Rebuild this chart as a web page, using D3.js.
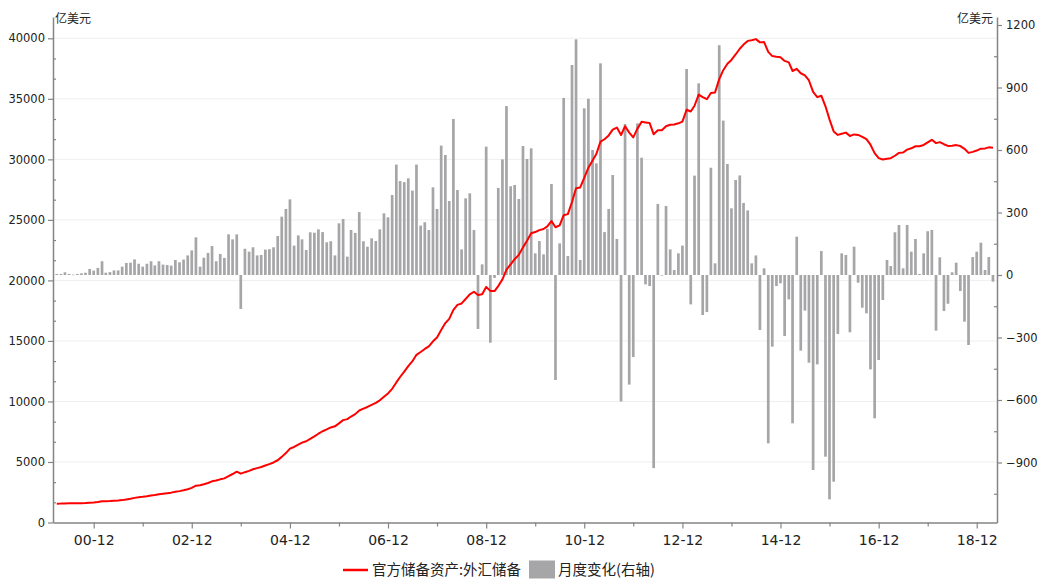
<!DOCTYPE html>
<html>
<head>
<meta charset="utf-8">
<script src="https://cdn.jsdelivr.net/npm/d3@7/dist/d3.min.js"></script>
<style>
  html, body { margin: 0; padding: 0; background: #fff; }
  svg { display: block; }
</style>
</head>
<body>
<svg id="chart" width="1039" height="580"></svg>
<script>
// Monthly series, March 2000 – April 2019
const firstMonth = "2000-03";
const lastMonth = "2019-04";

// 官方储备资产:外汇储备 (亿美元), month-end level
const reserves = [
  1557,1562,1575,1580,1582,1587,1595,1606,1635,1656,
  1688,1751,1760,1772,1792,1812,1849,1905,1961,2034,2085,2122,
  2172,2234,2275,2337,2383,2426,2467,2535,2591,2661,2751,2864,
  3043,3081,3162,3265,3402,3466,3565,3644,3837,4006,4198,4033,
  4157,4267,4398,4490,4584,4705,4827,4958,5143,5421,5736,6099,
  6238,6426,6595,6713,6916,7117,7334,7538,7693,7853,7945,8189,
  8455,8540,8753,8953,9252,9411,9545,9718,9878,10094,10388,10663,
  11044,11571,12019,12462,12923,13325,13852,14086,14336,14549,14967,15282,
  15900,16473,16825,17571,17976,18096,18461,18850,19063,18801,18848,19460,
  19133,19117,19533,20086,20895,21319,21749,22112,22729,23284,23890,23992,
  24152,24248,24467,24900,24393,24542,25388,25476,26481,27608,27677,28473,
  29316,29913,30446,31459,31662,31976,32453,32623,32013,32735,32207,31811,
  32537,33098,33051,32996,32067,32406,32404,32733,32854,32876,32977,33116,
  34101,33956,34429,35345,35149,34967,35478,35530,36630,37367,37896,38213,
  38665,39139,39481,39787,39839,39932,39664,39692,38880,38532,38475,38430,
  38134,38014,37299,37480,37114,36940,36516,35577,35145,35257,34382,33304,
  32307,32019,32118,32209,31929,32060,32018,31856,31667,31210,30517,30105,
  29983,30053,30094,30297,30535,30565,30803,30913,31084,31087,31190,31399,
  31613,31343,31426,31250,31110,31121,31177,31098,30871,30533,30617,30727,
  30882,30906,30992,30960
];

// 月度变化 (亿美元), right axis
const monthlyChange = [
  5,5,13,5,2,5,8,11,29,21,
  34,66,11,14,22,22,40,58,59,75,54,40,
  54,66,46,66,50,48,45,72,61,74,94,118,
  181,40,83,106,139,66,101,82,195,171,195,-163,
  126,112,133,94,96,122,124,133,187,280,317,363,
  141,190,171,120,205,203,219,206,157,162,94,248,
  269,88,216,202,302,162,136,176,163,219,296,277,
  384,530,451,446,464,405,530,237,253,216,421,317,
  621,576,355,749,408,123,368,392,216,-259,51,616,
  -325,-14,418,555,811,426,432,365,619,557,608,104,
  163,99,222,437,-504,152,850,91,1008,1131,72,800,
  846,600,536,1016,206,317,480,173,-607,725,-526,-394,
  728,563,-45,-53,-927,341,-2,331,123,24,104,141,
  989,-141,477,920,-192,-178,515,56,1103,741,533,320,
  456,478,346,310,56,94,-264,32,-808,-344,-53,-40,
  -293,-117,-712,184,-363,-171,-421,-936,-429,115,-872,-1077,
  -992,-283,104,96,-275,136,-37,-157,-184,-453,-688,-408,
  -120,72,43,205,240,32,240,112,173,5,104,210,
  216,-267,85,-173,-138,13,59,-77,-224,-336,86,112,
  155,24,86,-32
];

// Axis ticks
const xTickLabels = ["00-12","02-12","04-12","06-12","08-12","10-12","12-12","14-12","16-12","18-12"];
const xMinorLabels = ["01-12","03-12","05-12","07-12","09-12","11-12","13-12","15-12","17-12"];
const leftTicks = [0,5000,10000,15000,20000,25000,30000,35000,40000];
const rightTicks = [-900,-600,-300,0,300,600,900,1200];
const unitLabel = "亿美元";
const lineName = "官方储备资产:外汇储备";
const barName = "月度变化(右轴)";

const parseYM = d3.timeParse("%Y-%m");
const parseTick = d3.timeParse("%y-%m");
const months = d3.timeMonth.range(parseYM(firstMonth), d3.timeMonth.offset(parseYM(lastMonth), 1));
const rows = months.map((m, i) => ({ date: m, level: reserves[i], change: monthlyChange[i] }));

const W = 1039, H = 580;
const plot = { left: 53, right: 997, top: 17, bottom: 522.5 };
const axisColor = "#858585";
const textColor = "#222";
const numFont = "'DejaVu Sans', Verdana, sans-serif";
const cjkFont = "'Noto Sans CJK SC', 'Noto Sans', sans-serif";

const svg = d3.select("#chart");

const x = d3.scaleTime()
  .domain([new Date(2000, 1, 2), new Date(2019, 4, 1)])
  .range([plot.left, plot.right]);
const yL = d3.scaleLinear().domain([0, 41760]).range([plot.bottom, plot.top]);
const yR = d3.scaleLinear().domain([-1188, 1238.4]).range([plot.bottom, plot.top]);

// horizontal grid on the left-axis ticks
svg.append("g")
  .selectAll("line")
  .data(leftTicks.filter(v => v > 0))
  .join("line")
  .attr("x1", plot.left).attr("x2", plot.right)
  .attr("y1", d => yL(d)).attr("y2", d => yL(d))
  .attr("stroke", "#efefef").attr("stroke-width", 1);

// monthly change bars
const barW = 2.7;
svg.append("g")
  .selectAll("rect")
  .data(rows)
  .join("rect")
  .attr("x", d => x(d.date) - barW / 2)
  .attr("width", barW)
  .attr("y", d => Math.min(yR(0), yR(d.change)))
  .attr("height", d => Math.max(0.6, Math.abs(yR(d.change) - yR(0))))
  .attr("fill", "#a6a6a8");

// reserve level line
svg.append("path")
  .datum(rows)
  .attr("fill", "none")
  .attr("stroke", "#ff0000")
  .attr("stroke-width", 2)
  .attr("stroke-linejoin", "round")
  .attr("d", d3.line().x(d => x(d.date)).y(d => yL(d.level)));

function styleAxis(g, fontSize) {
  g.select(".domain").attr("stroke", axisColor).attr("stroke-width", 1.5);
  g.selectAll(".tick line").attr("stroke", axisColor).attr("stroke-width", 1.2);
  g.selectAll(".tick text")
    .attr("fill", textColor)
    .style("font-family", numFont)
    .style("font-size", fontSize + "px");
}

// left axis: major ticks outside, minor ticks inside
const leftMinor = d3.range(0, 40001, 5000 / 3).map(v => Math.round(v)).filter(v => v % 5000 !== 0);
svg.append("g")
  .attr("transform", `translate(${plot.left},0)`)
  .call(d3.axisRight(yL).tickValues(leftMinor).tickSize(3).tickFormat("").tickSizeOuter(0))
  .call(g => { g.select(".domain").remove(); g.selectAll(".tick line").attr("stroke", axisColor).attr("stroke-width", 1.2); });
svg.append("g")
  .attr("transform", `translate(${plot.left},0)`)
  .call(d3.axisLeft(yL).tickValues(leftTicks).tickSize(5).tickPadding(3).tickSizeOuter(0).tickFormat(d3.format("d")))
  .call(g => styleAxis(g, 11.5));

// right axis
const rightMinor = d3.range(-1050, 1201, 300);
svg.append("g")
  .attr("transform", `translate(${plot.right},0)`)
  .call(d3.axisLeft(yR).tickValues(rightMinor).tickSize(3).tickFormat("").tickSizeOuter(0))
  .call(g => { g.select(".domain").remove(); g.selectAll(".tick line").attr("stroke", axisColor).attr("stroke-width", 1.2); });
svg.append("g")
  .attr("transform", `translate(${plot.right},0)`)
  .call(d3.axisRight(yR).tickValues(rightTicks).tickSize(5).tickPadding(4).tickSizeOuter(0).tickFormat(d3.format("d")))
  .call(g => styleAxis(g, 11.5));

// bottom axis
svg.append("g")
  .attr("transform", `translate(0,${plot.bottom})`)
  .call(d3.axisBottom(x).tickValues(xMinorLabels.map(parseTick)).tickSize(4).tickFormat("").tickSizeOuter(0))
  .call(g => { g.select(".domain").remove(); g.selectAll(".tick line").attr("stroke", axisColor).attr("stroke-width", 1.2); });
svg.append("g")
  .attr("transform", `translate(0,${plot.bottom})`)
  .call(d3.axisBottom(x).tickValues(xTickLabels.map(parseTick)).tickSize(6).tickPadding(7)
    .tickSizeOuter(0).tickFormat(d3.timeFormat("%y-%m")))
  .call(g => styleAxis(g, 14));

// unit labels
svg.append("text")
  .attr("x", plot.left + 2).attr("y", 23)
  .attr("fill", textColor)
  .style("font-family", cjkFont).style("font-size", "12px")
  .text(unitLabel);
svg.append("text")
  .attr("x", plot.right - 4).attr("y", 23)
  .attr("text-anchor", "end")
  .attr("fill", textColor)
  .style("font-family", cjkFont).style("font-size", "12px")
  .text(unitLabel);

// legend
const legend = svg.append("g").attr("transform", "translate(0,570)");
legend.append("line")
  .attr("x1", 343).attr("x2", 368).attr("y1", 0).attr("y2", 0)
  .attr("stroke", "#ff0000").attr("stroke-width", 2.5);
legend.append("text")
  .attr("x", 372).attr("y", 0).attr("dy", "0.35em")
  .attr("fill", textColor)
  .style("font-family", cjkFont).style("font-size", "14.5px")
  .text(lineName);
legend.append("rect")
  .attr("x", 529).attr("y", -9.5).attr("width", 26).attr("height", 18)
  .attr("fill", "#a6a6a8");
legend.append("text")
  .attr("x", 558).attr("y", 0).attr("dy", "0.35em")
  .attr("fill", textColor)
  .style("font-family", cjkFont).style("font-size", "14.5px")
  .text(barName);
</script>
</body>
</html>
